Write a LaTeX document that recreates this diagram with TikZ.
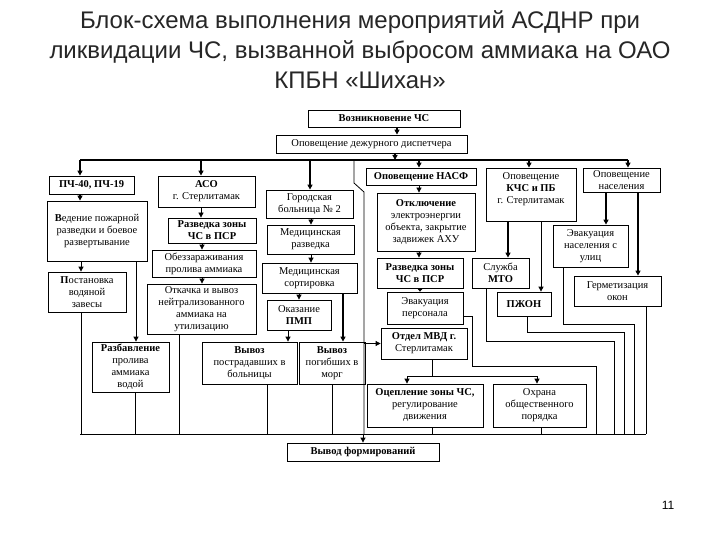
\documentclass[tikz,border=0pt]{standalone}
\usepackage{fontspec}
\setmainfont{Liberation Serif}
\newfontfamily\titlefont{Liberation Sans}
\usetikzlibrary{arrows.meta}
\begin{document}
\begin{tikzpicture}[x=1pt,y=-1pt,
  box/.style={draw, line width=0.8pt, inner sep=0pt, align=center, font=\fontsize{10.5}{12}\selectfont},
  wh/.style 2 args={minimum width=#1pt, minimum height=#2pt},
  ln/.style={line width=0.8pt},
  thk/.style={line width=1.6pt},
  arr/.style={-{Triangle[length=5pt,width=5pt]}}]
\useasboundingbox[fill=white] (0,0) rectangle (720,540);
% title
\node[font=\titlefont\fontsize{24}{30}\selectfont, align=center, text=black!85] (title) at (360,50)
  {Блок-схема выполнения мероприятий АСДНР при\\ликвидации ЧС, вызванной выбросом аммиака на ОАО\\КПБН «Шихан»};
\node[font=\titlefont\fontsize{12}{14}\selectfont] (pg) at (668,505) {11};
% boxes
\node[box, wh={152}{17}] (vozn) at (384,118.5) {\textbf{Возникновение ЧС}};
\node[box, wh={191}{18}] (disp) at (371.5,144) {Оповещение дежурного диспетчера};
\node[box, wh={85}{18}] (pch) at (91.5,185) {\textbf{ПЧ-40, ПЧ-19}};
\node[box, wh={100}{60}] (ved) at (97,231) {\textbf{В}едение пожарной\\разведки и боевое\\развертывание};
\node[box, wh={78}{40}] (post) at (87,292) {\textbf{П}остановка\\водяной\\завесы};
\node[box, wh={77}{50}] (razb) at (130.5,367) {\textbf{Разбавление}\\пролива\\аммиака\\водой};
\node[box, wh={97}{31}] (aso) at (206.5,191.5) {\textbf{АСО}\\г. Стерлитамак};
\node[box, wh={88}{25}] (razv1) at (212,230.5) {\textbf{Разведка зоны}\\\textbf{ЧС в ПСР}};
\node[box, wh={104}{27}] (obezz) at (204,263.5) {Обеззараживания\\пролива аммиака};
\node[box, wh={109}{50}] (otk) at (201.5,309) {Откачка и вывоз\\нейтрализованного\\аммиака на\\утилизацию};
\node[box, wh={87}{28}] (gorb) at (309.5,204) {Городская\\больница № 2};
\node[box, wh={87}{29}] (medr) at (310.5,239.5) {Медицинская\\разведка};
\node[box, wh={95}{30}] (meds) at (309.5,278) {Медицинская\\сортировка};
\node[box, wh={64}{30}] (pmp) at (299,315) {Оказание\\\textbf{ПМП}};
\node[box, wh={95}{42}] (vpostr) at (249.5,363) {\textbf{Вывоз}\\пострадавших в\\больницы};
\node[box, wh={66}{42}] (vpog) at (332,363) {\textbf{Вывоз}\\погибших в\\морг};
\node[box, wh={110}{17}] (nasf) at (421,176.5) {\textbf{Оповещение НАСФ}};
\node[box, wh={98}{58}] (otkl) at (426,222) {\textbf{Отключение}\\электроэнергии\\объекта, закрытие\\задвижек АХУ};
\node[box, wh={86}{30}] (razv2) at (420,273) {\textbf{Разведка зоны}\\\textbf{ЧС в ПСР}};
\node[box, wh={76}{32}] (evper) at (425,308) {Эвакуация\\персонала};
\node[box, wh={86}{31}] (mvd) at (424,343.5) {\textbf{Отдел МВД г.}\\Стерлитамак};
\node[box, wh={116}{43}] (ocep) at (425,405.5) {\textbf{Оцепление зоны ЧС,}\\регулирование\\движения};
\node[box, wh={93}{43}] (ohr) at (539.5,405.5) {Охрана\\общественного\\порядка};
\node[box, wh={90}{53}] (kchs) at (531,194.5) {Оповещение\\\textbf{КЧС и ПБ}\\г. Стерлитамак\\[1pt]};
\node[box, wh={57}{30}] (mto) at (500.5,273) {Служба\\\textbf{МТО}};
\node[box, wh={54}{24}] (pzhon) at (524,304) {\textbf{ПЖОН}};
\node[box, wh={77}{24}] (nas) at (621.5,180) {Оповещение\\населения};
\node[box, wh={75}{42}] (evnas) at (590.5,246) {Эвакуация\\населения с\\улиц};
\node[box, wh={87}{30}] (germ) at (617.5,291) {Герметизация\\окон};
\node[box, wh={152}{18}] (vyvod) at (363,452) {\textbf{Вывод формирований}};
% buses
\coordinate (tbus) at (0,160);
\coordinate (bbus) at (0,434);
\draw[thk,arr] (vozn.south -| 397,0) -- (disp.north -| 397,0);
\draw[thk,arr] (disp.south -| 395,0) -- (tbus -| 395,0);
\draw[thk] (tbus -| 80,0) -- (tbus -| 628,0);
\foreach \n/\x in {pch/80, aso/201, gorb/310, nasf/419, kchs/529, nas/628}
  \draw[thk,arr] (tbus -| \x,0) -- (\n.north -| \x,0);
\draw[ln] (tbus -| 354,0) -- (354,183) -- (364,192) -- (bbus -| 364,0);
\draw[ln,arr] (mvd.west -| 364,0) -- (mvd.west);
% left column
\draw[thk,arr] (pch.south -| 80,0) -- (ved.north -| 80,0);
\draw[ln,arr] (ved.south -| 81,0) -- (post.north -| 81,0);
\draw[ln,arr] (ved.south -| 136,0) -- (razb.north -| 136,0);
% ASO column
\draw[ln,arr] (aso.south -| 201,0) -- (razv1.north -| 201,0);
\draw[ln,arr] (razv1.south -| 202,0) -- (obezz.north -| 202,0);
\draw[ln,arr] (obezz.south -| 202,0) -- (otk.north -| 202,0);
% hospital column
\draw[ln,arr] (gorb.south -| 311,0) -- (medr.north -| 311,0);
\draw[ln,arr] (medr.south -| 311,0) -- (meds.north -| 311,0);
\draw[ln,arr] (meds.south -| 299,0) -- (pmp.north -| 299,0);
\draw[ln,arr] (pmp.south -| 288,0) -- (vpostr.north -| 288,0);
\draw[thk,arr] (meds.south -| 343,0) -- (vpog.north -| 343,0);
% NASF column
\draw[ln,arr] (nasf.south -| 419,0) -- (otkl.north -| 419,0);
\draw[ln,arr] (otkl.south -| 419,0) -- (razv2.north -| 419,0);
\draw[ln,-{Triangle[length=3pt,width=5pt]}] (razv2.south -| 420,0) -- (evper.north -| 420,0);
\draw[ln] (mvd.south -| 432,0) -- (432,376);
\draw[ln] (407,376) -- (537,376);
\draw[ln,arr] (407,376) -- (ocep.north -| 407,0);
\draw[ln,arr] (537,376) -- (ohr.north -| 537,0);
% KCHS column
\draw[thk,arr] (kchs.south -| 508,0) -- (mto.north -| 508,0);
\draw[ln,arr] (kchs.south -| 541,0) -- (pzhon.north -| 541,0);
% population column
\draw[thk,arr] (nas.south -| 606,0) -- (evnas.north -| 606,0);
\draw[thk,arr] (nas.south -| 638,0) -- (germ.north -| 638,0);
% to bottom bus
\foreach \n/\x in {post/81, razb/135, otk/179, vpostr/267, vpog/332, ocep/432, ohr/541, germ/646}
  \draw[ln] (\n.south -| \x,0) -- (bbus -| \x,0);
\draw[ln] (evper.east |- 0,316) -- (472,316) -- (472,366) -- (596,366) -- (bbus -| 596,0);
\draw[ln] (mto.south -| 486,0) -- (486,341) -- (614,341) -- (bbus -| 614,0);
\draw[ln] (pzhon.south -| 527,0) -- (527,332) -- (624,332) -- (bbus -| 624,0);
\draw[ln] (evnas.south -| 563,0) -- (563,324) -- (634,324) -- (bbus -| 634,0);
\draw[ln] (bbus -| 80,0) -- (bbus -| 646,0);
\draw[ln,arr] (bbus -| 363,0) -- (vyvod.north);
\end{tikzpicture}
\end{document}
